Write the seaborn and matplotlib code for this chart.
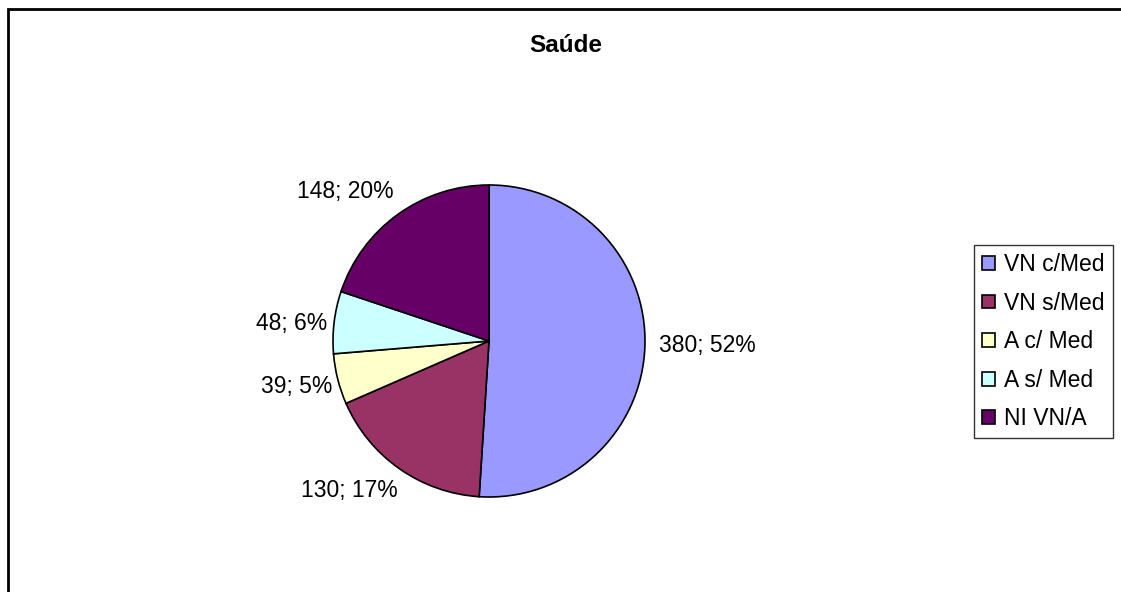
import numpy as np
import matplotlib
matplotlib.use("Agg")
import matplotlib.pyplot as plt
import seaborn as sns
from matplotlib.patches import Rectangle

# data
categories = ['VN c/Med', 'VN s/Med', 'A c/ Med', 'A s/ Med', 'NI VN/A']
values = [380, 130, 39, 48, 148]
pct_labels = ['52%', '17%', '5%', '6%', '20%']
colors = ['#9999FF', '#993366', '#FFFFCC', '#CCFFFF', '#660066']

sns.set_style("white")
plt.rcParams['font.family'] = ['Liberation Sans', 'DejaVu Sans']
plt.rcParams['text.color'] = 'black'

W, H = 1121, 592
fig = plt.figure(figsize=(W / 100, H / 100), dpi=100)

# pie centre (489, 341) px, radius 156 px
cx, cy, r = 489, 341, 156
side = 2.5 * r
ax = fig.add_axes([(cx - side / 2) / W, (H - cy - side / 2) / H, side / W, side / H])

labels = [f"{v}; {p}" for v, p in zip(values, pct_labels)]
wedges, texts = ax.pie(values, colors=colors, startangle=90, counterclock=False,
                       labels=labels, labeldistance=1.1,
                       wedgeprops=dict(edgecolor='black', linewidth=1.2),
                       textprops=dict(fontsize=16.5, color='black'))
ax.set_xlim(-1.25, 1.25)
ax.set_ylim(-1.25, 1.25)

# label placement like the original (distance, angle shift)
label_dist = [1.09, 1.124, 1.048, 1.045, 1.14]
label_shift = [0.4, 3.5, 2.1, 0.6, -3.2]
for w, t, d, s in zip(wedges, texts, label_dist, label_shift):
    ang = np.deg2rad((w.theta1 + w.theta2) / 2 + s)
    t.set_position((d * np.cos(ang), d * np.sin(ang)))

fig.text(566 / W, 1 - 52 / H, 'Saúde', ha='center', va='baseline',
         fontsize=17.5, fontweight='bold', color='black')

leg = fig.legend(wedges, categories, loc='upper left',
                 bbox_to_anchor=(974 / W, 1 - 245 / H),
                 fontsize=16.5, frameon=True, fancybox=False, shadow=False,
                 handlelength=0.55, handleheight=0.55, handletextpad=0.42,
                 labelspacing=0.68, borderpad=0.35, borderaxespad=0,
                 labelcolor='black')
leg.get_frame().set_edgecolor('black')
leg.get_frame().set_linewidth(1.0)

# outer chart border (only top and left visible)
fig.add_artist(Rectangle((8 / W, -0.1), 1.2, 1 - 9 / H + 0.1,
                         transform=fig.transFigure, fill=False,
                         edgecolor='black', linewidth=2, clip_on=False))

plt.savefig('out.png', dpi=100)
